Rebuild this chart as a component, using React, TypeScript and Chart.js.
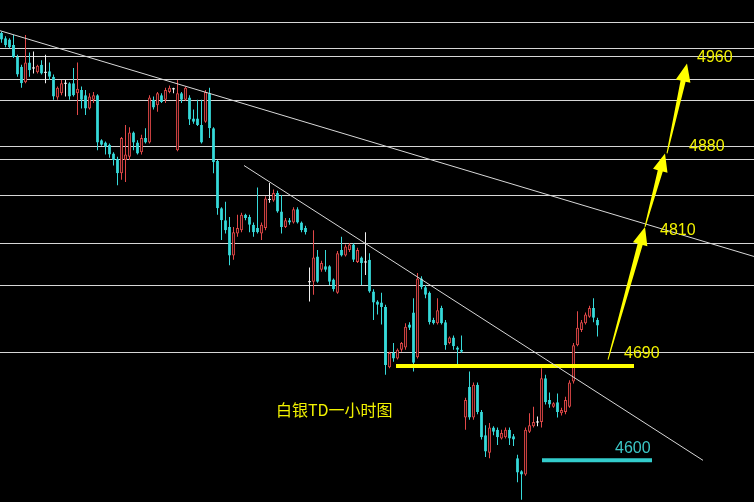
import { useEffect, useRef } from "react";
import { Chart, registerables } from "chart.js";

Chart.register(...registerables);

// ---- candle data (hourly silver TD) ----
const opens = [
  4983, 4978, 4977, 4972, 4961, 4952, 4938, 4956, 4951, 4947, 4954, 4947, 4948, 4943, 4924, 4928, 4937, 4937, 4937, 4928,
  4931, 4926, 4914, 4922, 4926, 4885, 4883, 4881, 4873, 4868, 4855, 4867, 4870, 4892, 4883, 4874, 4887, 4883, 4922, 4917,
  4926, 4922, 4929, 4932, 4876, 4928, 4922, 4924, 4905, 4905, 4899, 4902, 4928, 4896, 4866, 4823, 4812, 4806, 4780, 4800,
  4803, 4817, 4815, 4808, 4805, 4800, 4805, 4831, 4830, 4837, 4820, 4806, 4812, 4810, 4822, 4810, 4805, 4756, 4756, 4779,
  4767, 4770, 4770, 4758, 4746, 4785, 4780, 4785, 4790, 4774, 4778, 4774, 4776, 4747, 4738, 4737, 4733, 4678, 4691, 4686,
  4694, 4696, 4717, 4728, 4687, 4759, 4751, 4746, 4721, 4718, 4732, 4719, 4700, 4705, 4696, 4694, 4632, 4660, 4632, 4662,
  4637, 4616, 4600, 4623, 4621, 4613, 4614, 4621, 4615, 4595, 4583, 4580, 4619, 4624, 4628, 4628, 4668, 4648, 4642, 4646,
  4636, 4637, 4642, 4665, 4698, 4712, 4718, 4724, 4732, 4721,
];
const highs = [
  4984, 4980, 4978, 4981, 4963, 4954, 4981, 4965, 4966, 4954, 4958, 4963, 4956, 4945, 4934, 4940, 4940, 4938, 4951, 4956,
  4934, 4931, 4928, 4929, 4927, 4886, 4884, 4882, 4874, 4870, 4888, 4899, 4897, 4893, 4885, 4890, 4896, 4926, 4925, 4929,
  4928, 4933, 4935, 4933, 4940, 4929, 4934, 4926, 4913, 4922, 4922, 4931, 4933, 4897, 4867, 4824, 4829, 4815, 4806, 4817,
  4819, 4818, 4817, 4810, 4842, 4810, 4834, 4846, 4840, 4839, 4835, 4814, 4814, 4824, 4824, 4811, 4807, 4769, 4803, 4785,
  4775, 4785, 4771, 4759, 4784, 4797, 4790, 4791, 4791, 4787, 4779, 4801, 4782, 4749, 4739, 4746, 4735, 4692, 4700, 4695,
  4701, 4718, 4719, 4741, 4764, 4761, 4753, 4747, 4723, 4741, 4734, 4721, 4706, 4707, 4697, 4707, 4650, 4674, 4664, 4664,
  4639, 4625, 4627, 4624, 4623, 4621, 4623, 4623, 4617, 4598, 4584, 4623, 4636, 4642, 4633, 4677, 4671, 4655, 4646, 4654,
  4641, 4651, 4666, 4700, 4729, 4721, 4728, 4734, 4741, 4723,
];
const lows = [
  4974, 4970, 4969, 4960, 4943, 4933, 4937, 4943, 4946, 4946, 4945, 4937, 4940, 4922, 4922, 4926, 4925, 4922, 4925, 4908,
  4914, 4908, 4913, 4919, 4876, 4880, 4872, 4869, 4862, 4844, 4849, 4847, 4867, 4876, 4872, 4872, 4882, 4882, 4913, 4911,
  4919, 4919, 4928, 4928, 4875, 4919, 4921, 4899, 4900, 4898, 4882, 4901, 4887, 4855, 4817, 4794, 4800, 4771, 4776, 4797,
  4801, 4812, 4801, 4797, 4800, 4794, 4803, 4828, 4829, 4819, 4800, 4805, 4808, 4809, 4809, 4801, 4799, 4738, 4744, 4755,
  4765, 4765, 4753, 4747, 4745, 4779, 4779, 4783, 4774, 4773, 4753, 4762, 4746, 4721, 4726, 4717, 4671, 4677, 4683, 4685,
  4692, 4694, 4712, 4674, 4686, 4749, 4741, 4717, 4717, 4717, 4717, 4694, 4699, 4694, 4680, 4691, 4621, 4630, 4630, 4635,
  4612, 4596, 4595, 4616, 4607, 4612, 4613, 4607, 4606, 4573, 4557, 4579, 4618, 4623, 4624, 4623, 4644, 4641, 4641, 4632,
  4634, 4635, 4641, 4663, 4697, 4710, 4717, 4723, 4719, 4706,
];
const closes = [
  4977, 4972, 4970, 4961, 4945, 4937, 4956, 4949, 4951, 4953, 4946, 4947, 4943, 4925, 4933, 4937, 4937, 4925, 4926, 4932,
  4922, 4914, 4925, 4926, 4883, 4881, 4879, 4872, 4867, 4855, 4887, 4872, 4892, 4883, 4873, 4887, 4883, 4924, 4915, 4928,
  4920, 4931, 4933, 4932, 4928, 4922, 4933, 4904, 4902, 4899, 4883, 4929, 4896, 4865, 4823, 4812, 4803, 4780, 4801, 4805,
  4817, 4814, 4808, 4801, 4801, 4808, 4832, 4831, 4837, 4820, 4806, 4812, 4810, 4822, 4810, 4803, 4801, 4756, 4778, 4756,
  4773, 4767, 4756, 4749, 4782, 4780, 4788, 4790, 4776, 4785, 4773, 4774, 4747, 4737, 4735, 4733, 4680, 4691, 4686, 4694,
  4700, 4715, 4714, 4682, 4759, 4751, 4744, 4719, 4718, 4730, 4718, 4698, 4705, 4697, 4694, 4692, 4648, 4632, 4662, 4637,
  4614, 4601, 4623, 4619, 4614, 4618, 4621, 4613, 4612, 4582, 4580, 4621, 4625, 4628, 4628, 4668, 4646, 4644, 4645, 4637,
  4639, 4648, 4664, 4698, 4714, 4719, 4726, 4732, 4723, 4716,
];

// ---- horizontal reference levels ----
const gridLevels = [4993, 4969, 4962, 4941, 4922, 4880, 4868, 4835, 4791, 4753, 4692];

// ---- trend lines & marks (index, price) ----
const trendLine1 = [{ x: -0.375, y: 4985 }, { x: 188.125, y: 4779 }];
const trendLine2 = [{ x: 60.625, y: 4862 }, { x: 175.375, y: 4593 }];
const supportLine = [{ x: 98.625, y: 4679 }, { x: 158.125, y: 4679 }];
const targetLine = [{ x: 135.125, y: 4593 }, { x: 162.625, y: 4593 }];
const arrowTails = [{ x: 151.625, y: 4685 }, { x: 160.875, y: 4806 }, { x: 166.375, y: 4873 }];
const arrowTips = [{ x: 160.875, y: 4806 }, { x: 165.875, y: 4873 }, { x: 171.375, y: 4955 }];

// ---- text labels ----
const labelTexts = ["4960", "4880", "4810", "4690", "4600", "白银TD一小时图"];
const labelX = [173.875, 171.875, 164.625, 155.625, 153.375, 68.625];
const labelY = [4960, 4879, 4803, 4690, 4604, 4639];
const labelColors = ["#f2f200", "#f2f200", "#f2f200", "#f2f200", "#3cc8c8", "#f2f200"];

const RED = "#e24848";
const CYAN = "#36dada";
const WHITE = "#f0f0f0";
const YELLOW = "#ffff00";

export default function App() {
  const ref = useRef<HTMLCanvasElement>(null);

  useEffect(() => {
    document.body.style.margin = "0";
    document.body.style.background = "#000";
    const canvas = ref.current;
    if (!canvas) return;

    const idx = opens.map((_, i) => i);
    const isDoji = (i: number) => closes[i] === opens[i];
    const isUp = (i: number) => closes[i] > opens[i];
    const colorOf = (i: number) => (isDoji(i) ? WHITE : isUp(i) ? RED : CYAN);

    const bodies = idx.map((i) =>
      isDoji(i)
        ? { x: i, y: [opens[i] - 0.5, opens[i] + 0.5] }
        : { x: i, y: [Math.min(opens[i], closes[i]), Math.max(opens[i], closes[i])] }
    );
    const wicks = idx.map((i) => ({ x: i, y: [lows[i], highs[i]] }));

    const decor = {
      id: "decor",
      beforeDraw(chart: any) {
        const c = chart.ctx;
        c.save();
        c.fillStyle = "#000";
        c.fillRect(0, 0, chart.width, chart.height);
        c.restore();
      },
      beforeDatasetsDraw(chart: any) {
        const c = chart.ctx;
        const ys = chart.scales.y;
        c.save();
        c.strokeStyle = "#d6d6d6";
        c.lineWidth = 1;
        gridLevels.forEach((lv) => {
          const py = Math.round(ys.getPixelForValue(lv)) + 0.5;
          c.beginPath();
          c.moveTo(0, py);
          c.lineTo(chart.width, py);
          c.stroke();
        });
        c.restore();
      },
      afterDatasetsDraw(chart: any) {
        const c = chart.ctx;
        const xs = chart.scales.x;
        const ys = chart.scales.y;
        c.save();
        c.fillStyle = YELLOW;
        arrowTails.forEach((t, k) => {
          const tx = xs.getPixelForValue(t.x);
          const ty = ys.getPixelForValue(t.y);
          const px = xs.getPixelForValue(arrowTips[k].x);
          const py = ys.getPixelForValue(arrowTips[k].y);
          const len = Math.hypot(px - tx, py - ty);
          const dx = (px - tx) / len;
          const dy = (py - ty) / len;
          const nx = -dy;
          const ny = dx;
          const hl = 18;
          const hw = 7.5;
          const bx = px - dx * hl;
          const by = py - dy * hl;
          c.beginPath();
          c.moveTo(tx + nx * 0.5, ty + ny * 0.5);
          c.lineTo(bx + nx * 2.6, by + ny * 2.6);
          c.lineTo(bx + nx * hw, by + ny * hw);
          c.lineTo(px, py);
          c.lineTo(bx - nx * hw, by - ny * hw);
          c.lineTo(bx - nx * 2.6, by - ny * 2.6);
          c.lineTo(tx - nx * 0.5, ty - ny * 0.5);
          c.closePath();
          c.fill();
        });
        c.textBaseline = "middle";
        c.textAlign = "left";
        labelTexts.forEach((txt, k) => {
          const isTitle = k === labelTexts.length - 1;
          c.font = isTitle
            ? '16px "Noto Sans CJK SC", "Noto Sans", sans-serif'
            : '16px "Liberation Sans", Arial, sans-serif';
          c.fillStyle = labelColors[k];
          c.fillText(txt, xs.getPixelForValue(labelX[k]), ys.getPixelForValue(labelY[k]));
        });
        c.restore();
      },
    };

    const chart = new Chart(canvas, {
      type: "bar",
      data: {
        datasets: [
          {
            type: "line",
            data: trendLine1,
            borderColor: "#d8d8d8",
            borderWidth: 1,
            pointRadius: 0,
            order: 0,
          },
          {
            type: "line",
            data: trendLine2,
            borderColor: "#d8d8d8",
            borderWidth: 1,
            pointRadius: 0,
            order: 0,
          },
          {
            type: "line",
            data: supportLine,
            borderColor: YELLOW,
            borderWidth: 4,
            pointRadius: 0,
            order: 0,
          },
          {
            type: "line",
            data: targetLine,
            borderColor: "#33cccc",
            borderWidth: 4,
            pointRadius: 0,
            order: 0,
          },
          {
            type: "bar",
            data: bodies as any,
            grouped: false,
            maxBarThickness: 3,
            backgroundColor: idx.map((i) => (isDoji(i) ? WHITE : isUp(i) ? "#000" : CYAN)),
            borderColor: idx.map((i) => colorOf(i)),
            borderWidth: idx.map((i) => (isDoji(i) ? 0 : 1)),
            borderSkipped: false,
            inflateAmount: 0,
            order: 1,
          } as any,
          {
            type: "bar",
            data: wicks as any,
            grouped: false,
            maxBarThickness: 1,
            backgroundColor: idx.map((i) => colorOf(i)),
            borderWidth: 0,
            inflateAmount: 0,
            order: 2,
          } as any,
        ],
      },
      options: {
        responsive: false,
        animation: false,
        devicePixelRatio: 1,
        events: [],
        layout: { padding: 0 },
        plugins: { legend: { display: false }, tooltip: { enabled: false } },
        scales: {
          x: { type: "linear", min: -0.375, max: 188.125, offset: false, display: false },
          y: { type: "linear", min: 4555, max: 5013, display: false },
        },
      },
      plugins: [decor],
    });

    return () => chart.destroy();
  }, []);

  return (
    <div style={{ width: 754, height: 502, background: "#000" }}>
      <canvas ref={ref} width={754} height={502} style={{ display: "block" }} />
    </div>
  );
}
